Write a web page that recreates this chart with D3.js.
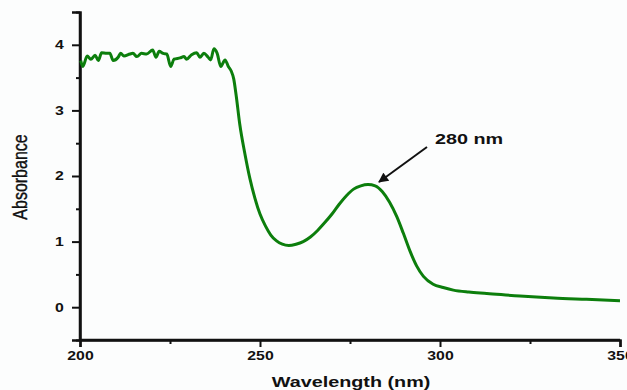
<!DOCTYPE html>
<html>
<head>
<meta charset="utf-8">
<script src="https://cdn.jsdelivr.net/npm/d3@7"></script>
<style>
  html, body { margin: 0; padding: 0; background: #fcfdfd; }
  svg { display: block; }
  text { font-family: Arial, "Liberation Sans", sans-serif; fill: #111; }
</style>
</head>
<body>
<div id="chart"></div>
<script>
// spectrum
let wavelength = [
    200.2, 200.8, 202.0, 203.0, 204.2, 205.1, 206.0, 207.4, 208.3, 209.2,
    210.6, 211.3, 212.2, 213.9, 214.7, 215.8, 217.1, 218.5, 220.2, 221.1,
    222.0, 223.1, 224.1, 225.2, 226.1, 227.8, 228.9, 229.6, 231.0, 232.4,
    233.3, 234.4, 235.6, 236.3, 237.2, 238.1, 239.1, 240.3, 241.2, 242.0,
    242.7, 243.4, 244.4, 245.8, 247.2, 248.6, 250.0, 251.5, 253.0, 254.6,
    256.2, 258.0, 260.0, 262.0, 264.0, 266.0, 268.0, 270.0, 272.0, 274.0,
    276.0, 278.0, 280.0, 282.0, 284.0, 286.0, 288.0, 289.8, 291.7, 293.5,
    295.4, 298.1, 300.9, 303.7, 308.0, 313.0, 322.2, 331.5, 340.7, 350.0
]
let absorbance = [
    3.76, 3.67, 3.83, 3.78, 3.84, 3.76, 3.88, 3.87, 3.87, 3.76,
    3.81, 3.87, 3.83, 3.86, 3.87, 3.82, 3.87, 3.86, 3.92, 3.81,
    3.90, 3.87, 3.86, 3.67, 3.78, 3.80, 3.82, 3.78, 3.85, 3.88,
    3.81, 3.87, 3.81, 3.77, 3.94, 3.87, 3.67, 3.77, 3.67, 3.60,
    3.48, 3.22, 2.78, 2.34, 1.96, 1.66, 1.42, 1.24, 1.10, 1.01,
    0.96, 0.94, 0.96, 1.00, 1.07, 1.17, 1.29, 1.42, 1.57, 1.70,
    1.80, 1.85, 1.87, 1.85, 1.76, 1.60, 1.38, 1.13, 0.85, 0.63,
    0.47, 0.35, 0.30, 0.26, 0.23, 0.21, 0.17, 0.14, 0.12, 0.10
]
let xMajorTicks = [200, 250, 300, 350]
let xMinorTicks = [225, 275, 325]
let yMajorTicks = [0, 1, 2, 3, 4]
let yMinorTicks = [-0.5, 0.5, 1.5, 2.5, 3.5, 4.5]
let peakLabel = '280 nm'

let width = 627
let height = 390
let stretch = 1.32   // the source picture is widened horizontally
let green = '#0c7e0c'

let svg = d3.select('#chart').append('svg')
    .attr('width', width)
    .attr('height', height)

let x = d3.scaleLinear().domain([200, 350]).range([80, 620])
let y = d3.scaleLinear().domain([-0.5, 4.5]).range([340, 12])

// axes
let yMajor = svg.append('g')
    .attr('transform', 'translate(80,0)')
    .call(d3.axisLeft(y).tickValues(yMajorTicks).tickSize(8).tickFormat(d3.format('d')))
let yMinor = svg.append('g')
    .attr('transform', 'translate(80,0)')
    .call(d3.axisLeft(y).tickValues(yMinorTicks).tickSize(4).tickFormat(''))
let xMajor = svg.append('g')
    .attr('transform', 'translate(0,340)')
    .call(d3.axisBottom(x).tickValues(xMajorTicks).tickSize(7).tickFormat(d3.format('d')))
let xMinor = svg.append('g')
    .attr('transform', 'translate(0,340)')
    .call(d3.axisBottom(x).tickValues(xMinorTicks).tickSize(4).tickFormat(''))

for (let ax of [yMajor, yMinor, xMajor, xMinor]) {
    ax.select('.domain').attr('stroke', '#111').attr('stroke-width', 2.5)
    ax.selectAll('.tick line').attr('stroke', '#111').attr('stroke-width', 2)
}
yMinor.select('.domain').attr('d', 'M0,12V340')
xMinor.select('.domain').attr('d', 'M80,0H620')

yMajor.selectAll('.tick text')
    .attr('x', -12.3)
    .attr('transform', 'scale(' + stretch + ',1)')
    .style('font-size', '12px')
    .style('font-weight', 'bold')
    .attr('fill', '#111')
xMajor.selectAll('.tick text')
    .attr('y', 20)
    .attr('dy', 0)
    .attr('transform', 'scale(' + stretch + ',1)')
    .style('font-size', '12px')
    .style('font-weight', 'bold')
    .attr('fill', '#111')

// axis titles
svg.append('text')
    .attr('transform', 'translate(351,387) scale(' + stretch + ',1)')
    .attr('text-anchor', 'middle')
    .style('font-size', '15px')
    .style('font-weight', 'bold')
    .text('Wavelength (nm)')

svg.append('text')
    .attr('transform', 'translate(27,177) scale(' + stretch + ',1) rotate(-90)')
    .attr('text-anchor', 'middle')
    .style('font-size', '16px')
    .style('stroke', '#111')
    .style('stroke-width', 0.3)
    .text('Absorbance')

// spectrum
let points = wavelength.map(function (w, i) { return [w, absorbance[i]] })
let line = d3.line()
    .x(function (d) { return x(d[0]) })
    .y(function (d) { return y(d[1]) })
    .curve(d3.curveMonotoneX)

svg.append('path')
    .datum(points)
    .attr('d', line)
    .attr('fill', 'none')
    .attr('stroke', green)
    .attr('stroke-width', 3)
    .attr('stroke-linejoin', 'round')

// annotation arrow at the peak
svg.append('defs').append('marker')
    .attr('id', 'head')
    .attr('viewBox', '0 0 10 10')
    .attr('refX', 9)
    .attr('refY', 5)
    .attr('markerWidth', 6)
    .attr('markerHeight', 5)
    .attr('markerUnits', 'strokeWidth')
    .attr('orient', 'auto')
    .append('path')
    .attr('d', 'M0,0L10,5L0,10Z')
    .attr('fill', '#111')

svg.append('line')
    .attr('x1', 427).attr('y1', 147)
    .attr('x2', 379).attr('y2', 182)
    .attr('stroke', '#111')
    .attr('stroke-width', 2)
    .attr('marker-end', 'url(#head)')

svg.append('text')
    .attr('transform', 'translate(435,144) scale(' + stretch + ',1)')
    .style('font-size', '15px')
    .style('font-weight', 'bold')
    .text(peakLabel)
</script>
</body>
</html>
